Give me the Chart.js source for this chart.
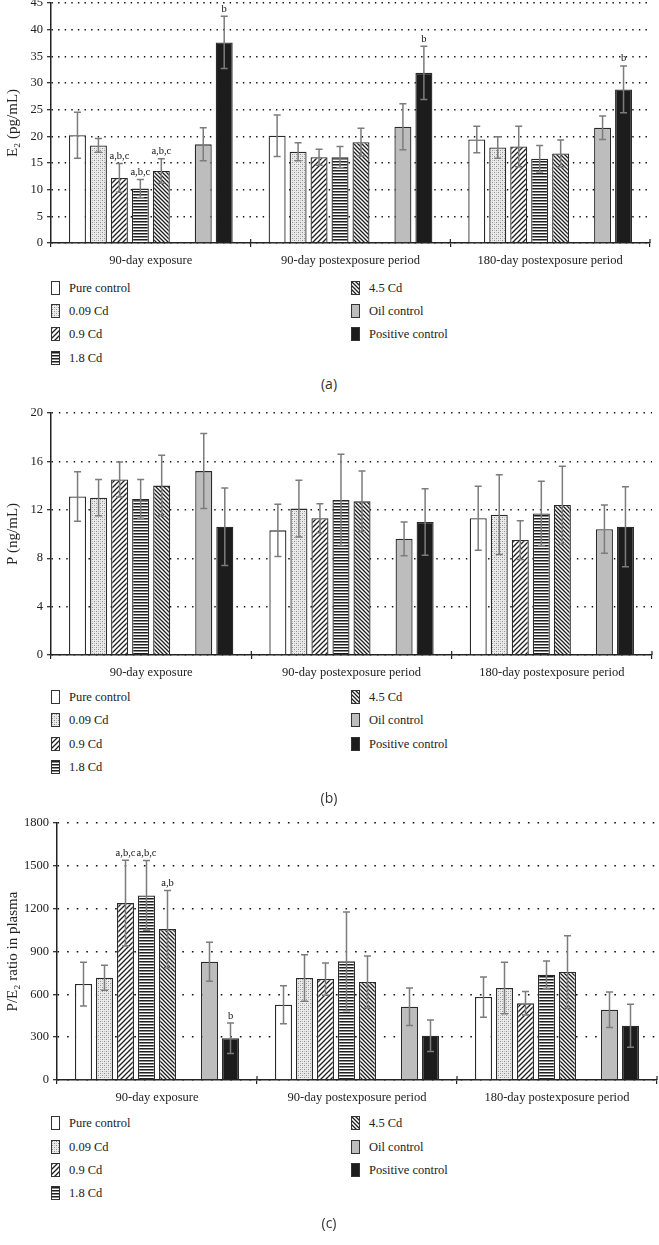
<!DOCTYPE html>
<html><head><meta charset="utf-8">
<script src="https://cdn.jsdelivr.net/npm/chart.js@4.4.0/dist/chart.umd.min.js"></script>
<style>
html,body{margin:0;padding:0;background:#fff;}
body{width:659px;height:1245px;position:relative;overflow:hidden;font-family:"Liberation Serif","Times New Roman",serif;color:#222;}
.chart{position:absolute;left:0;}
.leg{position:absolute;font-size:12.5px;line-height:14px;display:flex;align-items:center;white-space:nowrap;transform:translateY(-50%);}
.leg canvas{border:1px solid #333;margin-right:9px;display:block;}
.cap{position:absolute;font-family:"Open Sans",sans-serif;font-size:14px;color:#333;transform:translate(-50%,-50%);}
</style></head><body>
<canvas id="ca" class="chart" width="659" height="283" style="top:-10px"></canvas>
<canvas id="cb" class="chart" width="659" height="290" style="top:395px"></canvas>
<canvas id="cc" class="chart" width="659" height="305" style="top:805px"></canvas>
<div id="legends"></div>
<div class="cap" style="left:329px;top:383px">(a)</div>
<div class="cap" style="left:329px;top:797px">(b)</div>
<div class="cap" style="left:329px;top:1222px">(c)</div>
<script>
// ---------------- DATA ----------------
const categories = ["90-day exposure", "90-day postexposure period", "180-day postexposure period"];
const seriesNames = ["Pure control", "0.09 Cd", "0.9 Cd", "1.8 Cd", "4.5 Cd", "Oil control", "Positive control"];

// Panel (a): E2 (pg/mL), one row per category, one value per series
const e2Means = [
  [20.2, 18.3, 12.2, 10.2, 13.5, 18.5, 37.6],
  [20.1, 17.1, 16.1, 16.1, 18.9, 21.8, 31.9],
  [19.4, 17.9, 18.1, 15.8, 16.8, 21.6, 28.8]
];
const e2Errors = [
  [4.3, 1.3, 2.7, 1.7, 2.3, 3.1, 4.9],
  [3.9, 1.7, 1.5, 2.0, 2.6, 4.3, 5.0],
  [2.5, 2.0, 3.8, 2.5, 2.5, 2.2, 4.4]
];
const e2Sig = [
  ["", "", "a,b,c", "a,b,c", "a,b,c", "", "b"],
  ["", "", "", "", "", "", "b"],
  ["", "", "", "", "", "", "b"]
];
const e2Ticks = [0, 5, 10, 15, 20, 25, 30, 35, 40, 45];

// Panel (b): P (ng/mL)
const pMeans = [
  [13.1, 13.0, 14.5, 12.9, 14.0, 15.2, 10.6],
  [10.3, 12.1, 11.3, 12.8, 12.7, 9.6, 11.0],
  [11.3, 11.6, 9.5, 11.7, 12.4, 10.4, 10.6]
];
const pErrors = [
  [2.05, 1.5, 1.45, 1.6, 2.5, 3.1, 3.2],
  [2.15, 2.35, 1.2, 3.8, 2.5, 1.4, 2.75],
  [2.65, 3.3, 1.6, 2.65, 3.2, 2.0, 3.3]
];
const pSig = [
  ["", "", "", "", "", "", ""],
  ["", "", "", "", "", "", ""],
  ["", "", "", "", "", "", ""]
];
const pTicks = [0, 4, 8, 12, 16, 20];

// Panel (c): P/E2 ratio in plasma
const ratioMeans = [
  [672, 716, 1239, 1293, 1057, 828, 292],
  [527, 714, 707, 831, 686, 513, 310],
  [581, 644, 537, 737, 756, 492, 380]
];
const ratioErrors = [
  [153, 88, 300, 245, 271, 136, 107],
  [133, 163, 113, 346, 183, 132, 110],
  [141, 180, 82, 97, 255, 125, 150]
];
const ratioSig = [
  ["", "", "a,b,c", "a,b,c", "a,b", "", "b"],
  ["", "", "", "", "", "", ""],
  ["", "", "", "", "", "", ""]
];
const ratioTicks = [0, 300, 600, 900, 1200, 1500, 1800];

// ---------------- STYLES ----------------
const SERIF = '"Liberation Serif", "Times New Roman", serif';
const INK = '#222';

function makePattern(kind) {
  const c = document.createElement('canvas');
  const x = c.getContext('2d');
  if (kind === 'dots') {
    c.width = 4; c.height = 4;
    x.fillStyle = '#ebebeb'; x.fillRect(0, 0, 4, 4);
    x.fillStyle = '#8c8c8c'; x.fillRect(0, 0, 1, 1); x.fillRect(2, 2, 1, 1);
    x.fillStyle = '#c4c4c4'; x.fillRect(2, 0, 1, 1); x.fillRect(0, 2, 1, 1);
  } else if (kind === 'fwd' || kind === 'back') {
    const n = kind === 'fwd' ? 5 : 4;
    c.width = n; c.height = n;
    x.fillStyle = '#fff'; x.fillRect(0, 0, n, n);
    x.strokeStyle = '#1e1e1e'; x.lineWidth = 1.3;
    x.beginPath();
    if (kind === 'fwd') {
      x.moveTo(-1, n + 1); x.lineTo(n + 1, -1);
      x.moveTo(-1, 1); x.lineTo(1, -1);
      x.moveTo(n - 1, n + 1); x.lineTo(n + 1, n - 1);
    } else {
      x.moveTo(-1, -1); x.lineTo(n + 1, n + 1);
      x.moveTo(n - 1, -1); x.lineTo(n + 1, 1);
      x.moveTo(-1, n - 1); x.lineTo(1, n + 1);
    }
    x.stroke();
  } else if (kind === 'horiz') {
    c.width = 4; c.height = 3;
    x.fillStyle = '#fff'; x.fillRect(0, 0, 4, 3);
    x.fillStyle = '#1e1e1e'; x.fillRect(0, 0, 4, 1);
    x.fillStyle = '#8a8a8a'; x.fillRect(0, 1, 4, 1);
  }
  return x.createPattern(c, 'repeat');
}

const fills = ['#ffffff', makePattern('dots'), makePattern('fwd'), makePattern('horiz'), makePattern('back'), '#bdbdbd', '#1c1c1c'];

// ---------------- PLUGIN: error bars + significance letters ----------------
const errorBarPlugin = {
  id: 'errbars',
  afterDatasetsDraw(chart) {
    const ctx = chart.ctx;
    const ys = chart.scales.y;
    chart.data.datasets.forEach((ds, i) => {
      if (!ds.errors) return;
      const meta = chart.getDatasetMeta(i);
      meta.data.forEach((bar, j) => {
        const v = ds.data[j], e = ds.errors[j];
        if (v == null) return;
        const yt = ys.getPixelForValue(v + e);
        const yb = ys.getPixelForValue(v - e);
        ctx.save();
        ctx.strokeStyle = '#7c7c7c';
        ctx.lineWidth = 1.5;
        ctx.beginPath();
        ctx.moveTo(bar.x, yt); ctx.lineTo(bar.x, yb);
        ctx.moveTo(bar.x - 3.5, yt); ctx.lineTo(bar.x + 3.5, yt);
        ctx.moveTo(bar.x - 3.5, yb); ctx.lineTo(bar.x + 3.5, yb);
        ctx.stroke();
        const s = ds.sig && ds.sig[j];
        if (s) {
          ctx.fillStyle = '#111';
          ctx.font = '10.5px ' + SERIF;
          ctx.textAlign = 'center';
          ctx.textBaseline = 'bottom';
          ctx.fillText(s, bar.x, yt - 2);
        }
        ctx.restore();
      });
    });
  },
  afterDraw(chart) {
    // small upward part of the category-boundary ticks crossing the x axis
    const xs = chart.scales.x;
    const ctx = chart.ctx;
    const n = xs.ticks.length;
    ctx.save();
    ctx.strokeStyle = INK;
    ctx.lineWidth = 1.2;
    ctx.beginPath();
    for (let i = 1; i <= n; i++) {
      const px = xs.left + (xs.right - xs.left) * i / n;
      ctx.moveTo(px, xs.top - 4);
      ctx.lineTo(px, xs.top);
    }
    ctx.stroke();
    ctx.restore();
  }
};

// ---------------- CHART BUILDER ----------------
function buildChart(id, means, errors, sig, ticks, yTitle, cfg) {
  const datasets = [];
  seriesNames.forEach((name, s) => {
    if (s === 5) {
      // empty slot that leaves the gap between the Cd groups and the controls
      datasets.push({ label: '', data: categories.map(() => null), backgroundColor: 'rgba(0,0,0,0)', borderWidth: 0 });
    }
    datasets.push({
      label: name,
      data: categories.map((_, c) => means[c][s]),
      errors: categories.map((_, c) => errors[c][s]),
      sig: categories.map((_, c) => sig[c][s]),
      backgroundColor: fills[s],
      borderColor: '#2a2a2a',
      borderWidth: 1.3,
      borderSkipped: 'bottom'
    });
  });
  return new Chart(document.getElementById(id), {
    type: 'bar',
    data: { labels: categories, datasets },
    plugins: [errorBarPlugin],
    options: {
      responsive: false,
      animation: false,
      events: [],
      categoryPercentage: 0.84,
      barPercentage: 0.81,
      layout: { padding: { top: cfg.padTop, right: cfg.padRight, left: 0, bottom: 0 } },
      plugins: { legend: { display: false }, tooltip: { enabled: false } },
      scales: {
        x: {
          grid: { display: true, drawOnChartArea: false, drawTicks: true, tickLength: 4, color: INK, lineWidth: 1.2, offset: true },
          border: { display: true, color: INK, width: 1.5 },
          ticks: { font: { family: SERIF, size: 12.5 }, color: INK, padding: 6.5, maxRotation: 0, autoSkip: false },
          afterFit: s => { s.height = 30; }
        },
        y: {
          min: ticks[0],
          max: ticks[ticks.length - 1],
          afterBuildTicks: s => { s.ticks = ticks.map(v => ({ value: v })); },
          grid: { color: '#111', lineWidth: 1.4, tickLength: 4, drawTicks: true, tickColor: INK, tickWidth: 1.2 },
          border: { display: true, color: INK, width: 1.5, dash: cfg.dash },
          ticks: { font: { family: SERIF, size: 12.5 }, color: INK, padding: 4, callback: v => String(v) },
          title: { display: true, text: yTitle, font: { family: SERIF, size: 15 }, color: INK, padding: { top: 4, bottom: 0 } },
          afterFit: s => { s.width = cfg.yWidth; }
        }
      }
    }
  });
}

buildChart('ca', e2Means, e2Errors, e2Sig, e2Ticks, 'E\u2082 (pg/mL)', { padTop: 13, padRight: 9, yWidth: 51, dash: [1.4, 5.2] });
buildChart('cb', pMeans, pErrors, pSig, pTicks, 'P (ng/mL)', { padTop: 18, padRight: 7, yWidth: 51, dash: [1.4, 6] });
buildChart('cc', ratioMeans, ratioErrors, ratioSig, ratioTicks, 'P/E\u2082 ratio in plasma', { padTop: 18, padRight: 2, yWidth: 57, dash: [1.6, 8] });

// ---------------- LEGENDS (HTML) ----------------
const legendRows = [[288, 311, 334, 358], [697, 720, 744, 767], [1123, 1147, 1170, 1193]];
const legendHost = document.getElementById('legends');
legendRows.forEach(rows => {
  seriesNames.forEach((name, s) => {
    const col = s < 4 ? 0 : 1;
    const row = s < 4 ? s : s - 4;
    const d = document.createElement('div');
    d.className = 'leg';
    d.style.left = (col === 0 ? 51 : 351) + 'px';
    d.style.top = rows[row] + 'px';
    const sw = document.createElement('canvas');
    sw.width = 7; sw.height = 12;
    const sc = sw.getContext('2d');
    sc.fillStyle = fills[s];
    sc.fillRect(0, 0, 7, 12);
    d.appendChild(sw);
    const t = document.createElement('span');
    t.textContent = name;
    d.appendChild(t);
    legendHost.appendChild(d);
  });
});
</script>
</body></html>
